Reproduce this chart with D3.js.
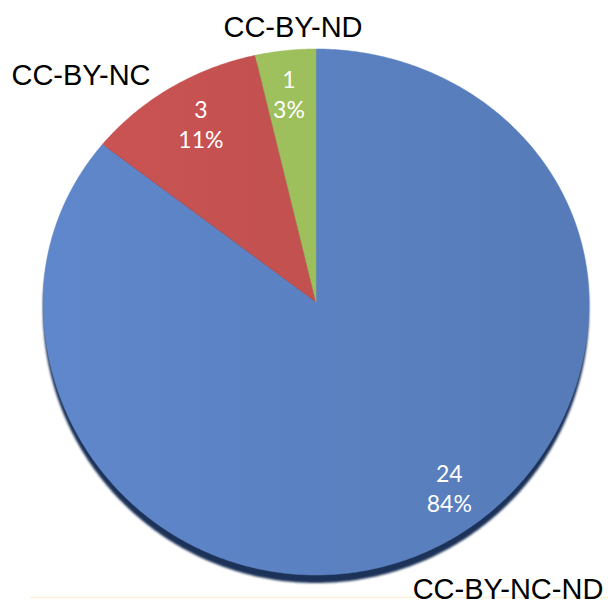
<!DOCTYPE html>
<html>
<head>
<meta charset="utf-8">
<script src="https://cdn.jsdelivr.net/npm/d3@7/dist/d3.min.js"></script>
<style>
  html, body { margin: 0; padding: 0; background: #fff; }
  svg { display: block; }
</style>
</head>
<body>
<div id="chart"></div>
<script>
// Licence types and counts
const categories = ['CC-BY-NC-ND', 'CC-BY-NC', 'CC-BY-ND'];
const counts = [24, 3, 1];
const pctLabels = ['84%', '11%', '3%'];
const colors = ['#5a80c0', '#c0504f', '#9bbe5c'];

const WIDTH = 608;
const HEIGHT = 604;
// slightly tilted pie: top half is flatter than the bottom half
const CX = 316, CY = 302;
const RX = 273, RY_TOP = 253, RY_BOTTOM = 273;

// where Excel put the value labels (radius factor, angle nudge in degrees)
const VALUE_LABEL = [
  { r: 0.845, da: -9.6 },
  { r: 0.813, da: 0.9 },
  { r: 0.82, da: -0.5 },
];
// category labels sit outside the pie
const OUTER_LABEL = [
  { x: 508, y: 599 },
  { x: 81, y: 85 },
  { x: 293, y: 37 },
];

const svg = d3.select('#chart')
  .append('svg')
  .attr('width', WIDTH)
  .attr('height', HEIGHT);

const defs = svg.append('defs');
defs.append('filter')
  .attr('id', 'soft')
  .append('feGaussianBlur')
  .attr('stdDeviation', 1.2);

colors.forEach((c, i) => {
  const grad = defs.append('linearGradient')
    .attr('id', `grad${i}`)
    .attr('gradientUnits', 'userSpaceOnUse')
    .attr('x1', CX - RX).attr('x2', CX + RX)
    .attr('y1', 0).attr('y2', 0);
  grad.append('stop').attr('offset', '0%').attr('stop-color', d3.color(c).brighter(0.15));
  grad.append('stop').attr('offset', '100%').attr('stop-color', d3.color(c).darker(0.12));
});

const radius = d3.scaleLinear().domain([0, 1]).range([0, 1]);

function project(angle, r) {
  const s = Math.sin(angle), c = Math.cos(angle);
  const ry = c > 0 ? RY_TOP : RY_BOTTOM;
  return [CX + RX * radius(r) * s, CY - ry * radius(r) * c];
}

function slicePoints(a0, a1, withCenter) {
  const steps = Math.max(8, Math.ceil((a1 - a0) / 0.01));
  const pts = d3.range(steps + 1).map(k => project(a0 + (a1 - a0) * k / steps, 1));
  return withCenter ? [project(0, 0)].concat(pts) : pts;
}

const line = d3.line().curve(d3.curveLinearClosed);

const pie = d3.pie().sort(null).value(d => d)(counts);

// bottom rim shadow
svg.append('path')
  .attr('d', line(slicePoints(0, Math.PI * 2, false)))
  .attr('transform', 'translate(0,8)')
  .attr('fill', '#1c3259')
  .attr('filter', 'url(#soft)');

// faint base line under the chart
svg.append('line')
  .attr('x1', 30).attr('x2', WIDTH)
  .attr('y1', 597.5).attr('y2', 597.5)
  .attr('stroke', '#fbf1d6')
  .attr('stroke-width', 1.5);

svg.append('g')
  .selectAll('path')
  .data(pie)
  .join('path')
  .attr('d', d => line(slicePoints(d.startAngle, d.endAngle, true)))
  .attr('fill', (d, i) => `url(#grad${i})`)
  .attr('stroke', (d, i) => colors[i])
  .attr('stroke-width', 0.5);

svg.append('g')
  .selectAll('text')
  .data(pie)
  .join('text')
  .attr('text-anchor', 'middle')
  .style('font-family', 'Lato, "Open Sans", sans-serif')
  .style('font-size', '23px')
  .style('fill', '#fff')
  .each(function (d, i) {
    const mid = (d.startAngle + d.endAngle) / 2 + VALUE_LABEL[i].da * Math.PI / 180;
    const [x, y] = project(mid, VALUE_LABEL[i].r);
    const t = d3.select(this);
    t.append('tspan').attr('x', x).attr('y', y - 8).text(counts[i]);
    t.append('tspan').attr('x', x).attr('y', y + 22).text(pctLabels[i]);
  });

svg.append('g')
  .selectAll('text')
  .data(categories)
  .join('text')
  .attr('x', (d, i) => OUTER_LABEL[i].x)
  .attr('y', (d, i) => OUTER_LABEL[i].y)
  .attr('text-anchor', 'middle')
  .style('font-family', '"Liberation Sans", Arial, sans-serif')
  .style('font-size', '29px')
  .style('fill', '#000')
  .text(d => d);
</script>
</body>
</html>
